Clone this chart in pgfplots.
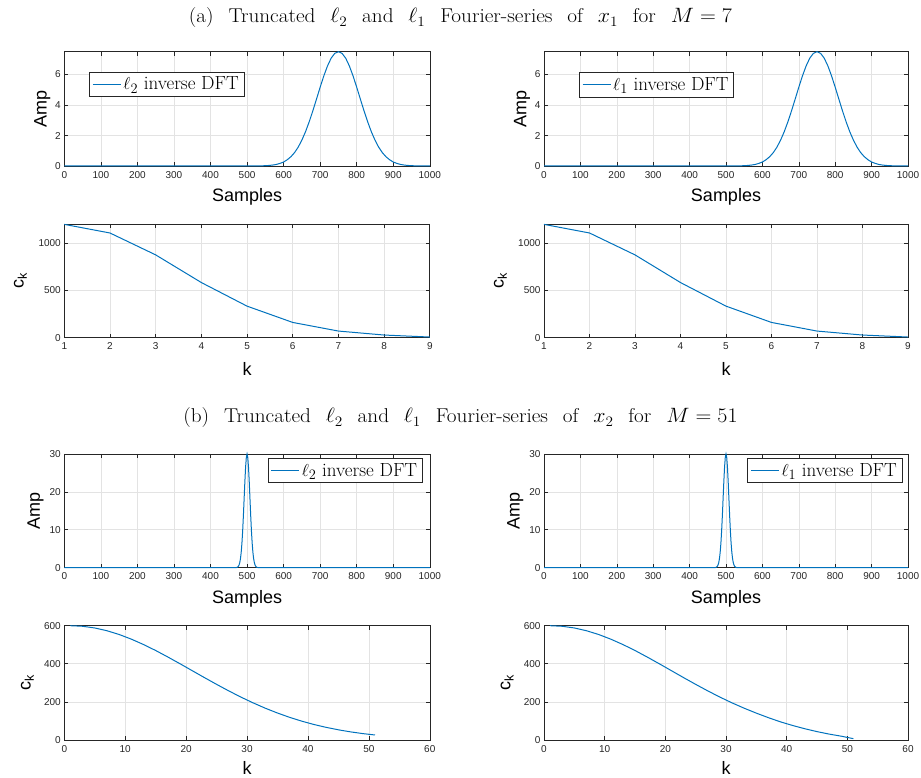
\documentclass[border=0pt]{standalone}
\usepackage{fontspec}
\usepackage{pgfplots}
\usepackage{pgfplotstable}
\pgfplotsset{compat=1.18}
\newfontfamily\hv{Liberation Sans}
\definecolor{mblue}{RGB}{0,114,189}
\definecolor{axgray}{gray}{0.15}

% inverse DFT, x1 (M = 7)
\pgfplotstableread{
x y
0 0
500 0
520 0.003
540 0.011
550 0.020
560 0.035
570 0.061
580 0.10
590 0.17
600 0.26
610 0.41
620 0.61
630 0.88
640 1.24
650 1.70
660 2.25
670 2.90
680 3.62
690 4.39
700 5.17
710 5.91
720 6.56
730 7.07
740 7.39
750 7.50
760 7.39
770 7.07
780 6.56
790 5.91
800 5.17
810 4.39
820 3.62
830 2.90
840 2.25
850 1.70
860 1.24
870 0.88
880 0.61
890 0.41
900 0.26
910 0.17
920 0.10
930 0.061
940 0.035
950 0.020
960 0.011
980 0.003
1000 0
}\xone

% inverse DFT, x2 (M = 51)
\pgfplotstableread{
x y
0 0
466 0
470 0.03
472 0.07
474 0.15
476 0.33
478 0.68
480 1.32
482 2.39
484 4.06
486 6.49
488 9.74
490 13.73
492 18.20
494 22.64
496 26.48
498 29.08
500 30.00
502 29.08
504 26.48
506 22.64
508 18.20
510 13.73
512 9.74
514 6.49
516 4.06
518 2.39
520 1.32
522 0.68
524 0.33
526 0.15
528 0.07
530 0.03
534 0
1000 0
}\xtwo

\pgfplotstableread{
k c
1 1196
2 1105
3 874
4 582
5 333
6 161
7 70
8 28
9 7
}\ckone

\pgfplotstableread{
k c
1 600
3 597.0
5 588.1
7 573.6
9 553.9
11 529.5
13 501.2
15 469.8
17 435.7
19 400.2
21 363.9
23 327.6
25 292.1
27 257.7
29 225.1
31 194.8
33 166.8
35 141.5
37 118.8
39 98.7
41 81.2
43 66.2
45 53.4
47 42.6
49 33.6
51 26.3
}\cktwoa

\pgfplotstableread{
k c
1 600
3 597.0
5 588.1
7 573.6
9 553.9
11 529.5
13 501.2
15 469.8
17 435.7
19 400.2
21 363.9
23 327.6
25 292.1
27 257.7
29 225.1
31 194.8
33 166.8
35 141
37 117
39 95
41 76
43 59
45 44
47 31
49 20
51 7
}\cktwob

\pgfplotsset{
  mat/.style={
    scale only axis,
    anchor=south west,
    clip=false,
    axis line style={axgray, line width=0.6pt},
    tick style={axgray, line width=0.6pt},
    tick align=inside,
    major tick length=4pt,
    grid=major,
    major grid style={gray!22, line width=0.6pt},
    ticklabel style={font=\hv\fontsize{10}{11}\selectfont, text=axgray},
    xticklabel style={yshift=-1.5pt},
    /pgf/number format/assume math mode=true,
    /pgf/number format/1000 sep={},
    scaled ticks=false,
    label style={font=\hv\fontsize{18}{20}\selectfont},
    xlabel style={at={(axis description cs:0.5,0)}, anchor=center, yshift=-31pt},
    legend style={draw=axgray, line width=0.6pt, fill=white,
      font=\fontsize{19}{21}\selectfont, inner xsep=3pt, inner ysep=3pt},
    legend image code/.code={\draw[mblue, line width=1pt] (0pt,0pt) -- (28pt,0pt);},
    cycle list={{mblue}},
    every axis plot/.append style={line width=1pt},
  },
  amp/.style={mat, xmin=0, xmax=1000, xtick={0,100,...,1000},
    xlabel={Samples}, ylabel={Amp}},
  ck/.style={mat, xlabel={k}, ylabel={c\textsubscript{k}}},
  ylab/.style={ylabel style={at={(axis description cs:#1,0.5)}, anchor=center}},
}
\newcommand\gap{\hspace{14pt}}

\begin{document}
\begin{tikzpicture}[x=1pt,y=1pt]
\useasboundingbox (0,0) rectangle (921,778);

\node[font=\fontsize{20}{22}\selectfont] at (460.5,760)
  {\scalebox{1.06}[1]{(a)\gap Truncated\gap $\ell_2$\gap and\gap $\ell_1$\gap Fourier-series\gap of\gap $x_1$\gap for\gap $M=7$}};
\node[font=\fontsize{20}{22}\selectfont] at (460.5,360)
  {\scalebox{1.06}[1]{(b)\gap Truncated\gap $\ell_2$\gap and\gap $\ell_1$\gap Fourier-series\gap of\gap $x_2$\gap for\gap $M=51$}};

% (a) row 1
\begin{axis}[amp, at={(64.3pt,612pt)}, width=365.5pt, height=114.3pt,
  ymin=0, ymax=7.5, ytick={0,2,4,6}, ylab=-0.060,
  legend style={at={(0.068,0.825)}, anchor=north west}]
\addplot table {\xone};
\addlegendentry{$\ell_2$ inverse DFT}
\end{axis}
\begin{axis}[amp, at={(544pt,612pt)}, width=364pt, height=114.3pt,
  ymin=0, ymax=7.5, ytick={0,2,4,6}, ylab=-0.060,
  legend style={at={(0.096,0.82)}, anchor=north west}]
\addplot table {\xone};
\addlegendentry{$\ell_1$ inverse DFT}
\end{axis}

% (a) row 2
\begin{axis}[ck, at={(64.3pt,440.3pt)}, width=365.5pt, height=113.7pt,
  xmin=1, xmax=9, xtick={1,...,9}, ymin=0, ymax=1200, ytick={0,500,1000},
  ylab=-0.120]
\addplot table {\ckone};
\end{axis}
\begin{axis}[ck, at={(544pt,440.3pt)}, width=364pt, height=113.7pt,
  xmin=1, xmax=9, xtick={1,...,9}, ymin=0, ymax=1200, ytick={0,500,1000},
  ylab=-0.120]
\addplot table {\ckone};
\end{axis}

% (b) row 3
\begin{axis}[amp, at={(64.3pt,210.3pt)}, width=365.5pt, height=113.7pt,
  ymin=0, ymax=30, ytick={0,10,20,30}, ylab=-0.079,
  legend style={at={(0.98,0.965)}, anchor=north east}]
\addplot table {\xtwo};
\addlegendentry{$\ell_2$ inverse DFT}
\end{axis}
\begin{axis}[amp, at={(544pt,210.3pt)}, width=364pt, height=113.7pt,
  ymin=0, ymax=30, ytick={0,10,20,30}, ylab=-0.079,
  legend style={at={(0.984,0.965)}, anchor=north east}]
\addplot table {\xtwo};
\addlegendentry{$\ell_1$ inverse DFT}
\end{axis}

% (b) row 4
\begin{axis}[ck, at={(64.3pt,38pt)}, width=365.5pt, height=114.3pt,
  xmin=0, xmax=60, xtick={0,10,...,60}, ymin=0, ymax=600, ytick={0,200,400,600},
  ylab=-0.101, xlabel style={yshift=3pt}]
\addplot table {\cktwoa};
\end{axis}
\begin{axis}[ck, at={(544pt,38pt)}, width=364pt, height=114.3pt,
  xmin=0, xmax=60, xtick={0,10,...,60}, ymin=0, ymax=600, ytick={0,200,400,600},
  ylab=-0.101, xlabel style={yshift=3pt}]
\addplot table {\cktwob};
\end{axis}
\end{tikzpicture}
\end{document}
